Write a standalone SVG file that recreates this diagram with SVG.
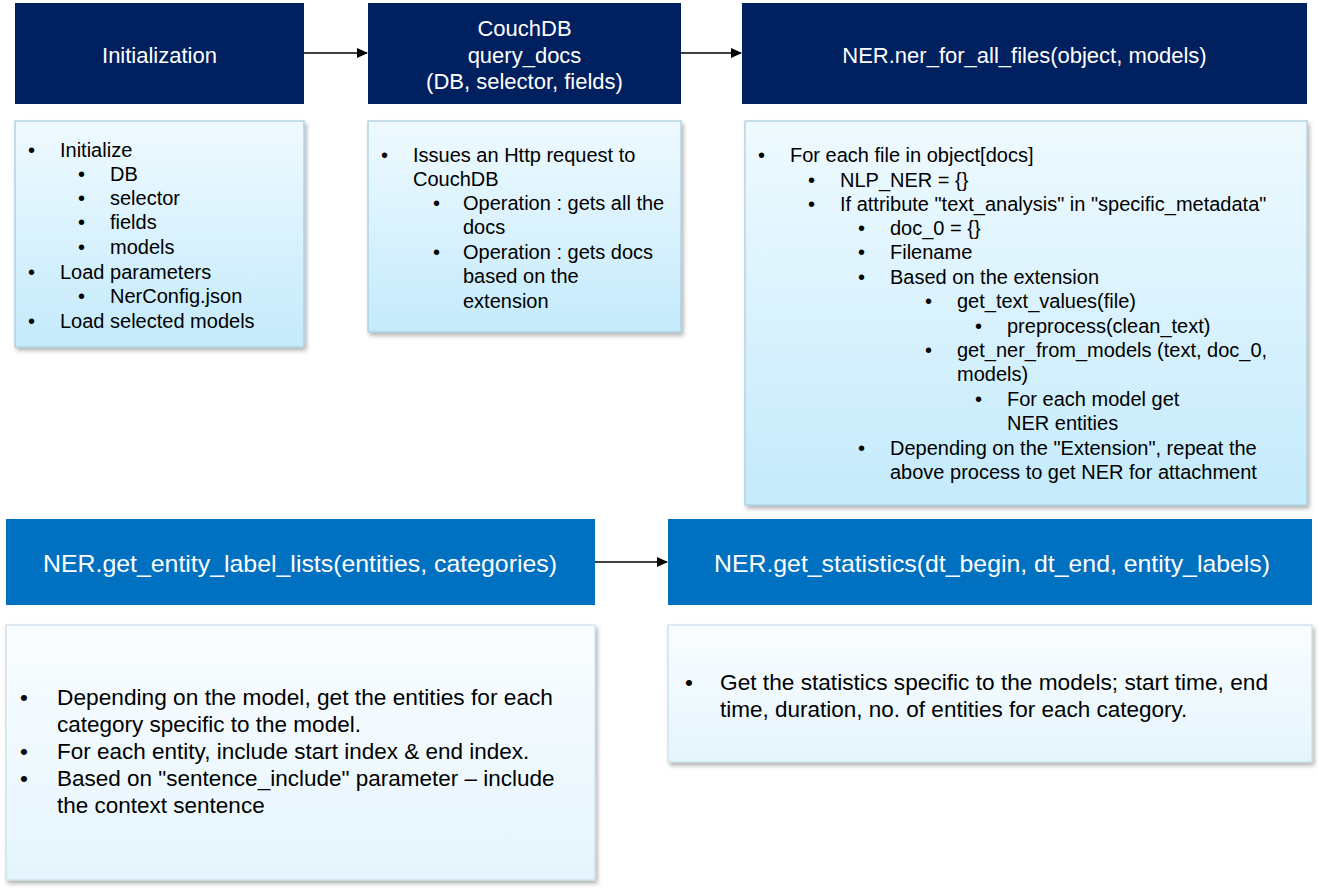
<svg xmlns="http://www.w3.org/2000/svg" width="1318" height="890" viewBox="0 0 1318 890">
<style>
text{font-family:"Liberation Sans",Arial,sans-serif}
.hd{fill:#002060}
.hb{fill:#0070c0}
.ht{fill:#ffffff;font-size:22px;text-anchor:middle}
.hbt{fill:#ffffff;font-size:24px;text-anchor:middle}
.card{fill:url(#g1);stroke:#a6cbdd;stroke-width:1.2;filter:url(#sh)}
.card2{fill:url(#g2);stroke:#c9dde8;stroke-width:1.2;filter:url(#sh)}
.t{fill:#000000;font-size:20px}
.t2{fill:#000000;font-size:22.5px}
.cn{stroke:#000000;stroke-width:1.3;fill:none;marker-end:url(#ah)}
</style>
<defs>
<linearGradient id="g1" x1="0" y1="0" x2="0" y2="1">
<stop offset="0" stop-color="#effaff"/>
<stop offset="1" stop-color="#c4eafb"/>
</linearGradient>
<linearGradient id="g2" x1="0" y1="0" x2="0" y2="1">
<stop offset="0" stop-color="#fafdff"/>
<stop offset="1" stop-color="#e5f5fd"/>
</linearGradient>
<filter id="sh" x="-5%" y="-5%" width="110%" height="115%">
<feDropShadow dx="2" dy="3" stdDeviation="2" flood-color="#000000" flood-opacity="0.3"/>
</filter>
<marker id="ah" markerWidth="11" markerHeight="10" refX="10" refY="5" orient="auto" markerUnits="userSpaceOnUse">
<path d="M0,0 L11,5 L0,10 Z" fill="#000000"/>
</marker>
</defs>

<g id="connectors">
<path class="cn" d="M304,53 L367,53"/>
<path class="cn" d="M681,53 L741,53"/>
<path class="cn" d="M595,562 L667,562"/>
</g>

<g id="init">
<rect class="hd" x="15" y="3" width="289" height="101"/>
<text class="ht" x="159.5" y="63">Initialization</text>
<rect class="card" x="15" y="121" width="289" height="226"/>
<g class="t">
<text x="28" y="157">•</text><text x="60" y="157">Initialize</text>
<text x="78" y="181">•</text><text x="110" y="181">DB</text>
<text x="78" y="205">•</text><text x="110" y="205">selector</text>
<text x="78" y="229">•</text><text x="110" y="229">fields</text>
<text x="78" y="254">•</text><text x="110" y="254">models</text>
<text x="28" y="279">•</text><text x="60" y="279">Load parameters</text>
<text x="78" y="303">•</text><text x="110" y="303">NerConfig.json</text>
<text x="28" y="328">•</text><text x="60" y="328">Load selected models</text>
</g>
</g>

<g id="couchdb">
<rect class="hd" x="368" y="3" width="313" height="101"/>
<text class="ht" x="524.5" y="36">CouchDB</text>
<text class="ht" x="524.5" y="63">query_docs</text>
<text class="ht" x="524.5" y="89">(DB, selector, fields)</text>
<rect class="card" x="368" y="121" width="313" height="211"/>
<g class="t">
<text x="381" y="162">•</text><text x="413" y="162">Issues an Http request to</text>
<text x="413" y="186">CouchDB</text>
<text x="433" y="210">•</text><text x="463" y="210">Operation : gets all the</text>
<text x="463" y="234">docs</text>
<text x="433" y="259">•</text><text x="463" y="259">Operation : gets docs</text>
<text x="463" y="283">based on the</text>
<text x="463" y="308">extension</text>
</g>
</g>

<g id="ner_all">
<rect class="hd" x="742" y="3" width="565" height="101"/>
<text class="ht" x="1024.5" y="63">NER.ner_for_all_files(object, models)</text>
<rect class="card" x="745" y="121" width="562" height="384"/>
<g class="t">
<text x="758" y="162">•</text><text x="790" y="162">For each file in object[docs]</text>
<text x="808" y="187">•</text><text x="840" y="187">NLP_NER = {}</text>
<text x="808" y="211">•</text><text x="840" y="211">If attribute "text_analysis" in "specific_metadata"</text>
<text x="858" y="235">•</text><text x="890" y="235">doc_0 = {}</text>
<text x="858" y="259">•</text><text x="890" y="259">Filename</text>
<text x="858" y="284">•</text><text x="890" y="284">Based on the extension</text>
<text x="925" y="308">•</text><text x="957" y="308">get_text_values(file)</text>
<text x="975" y="333">•</text><text x="1007" y="333">preprocess(clean_text)</text>
<text x="925" y="357">•</text><text x="957" y="357">get_ner_from_models (text, doc_0,</text>
<text x="957" y="381">models)</text>
<text x="975" y="406">•</text><text x="1007" y="406">For each model get</text>
<text x="1007" y="430">NER entities</text>
<text x="858" y="455">•</text><text x="890" y="455">Depending on the "Extension", repeat the</text>
<text x="890" y="479">above process to get NER for attachment</text>
</g>
</g>

<g id="entity_labels">
<rect class="hb" x="6" y="519" width="589" height="86"/>
<text class="hbt" x="300" y="572" textLength="514" lengthAdjust="spacingAndGlyphs">NER.get_entity_label_lists(entities, categories)</text>
<rect class="card2" x="6" y="625" width="589" height="255"/>
<g class="t2">
<text x="20" y="705">•</text><text x="57" y="705" textLength="496" lengthAdjust="spacingAndGlyphs">Depending on the model, get the entities for each</text>
<text x="57" y="732">category specific to the model.</text>
<text x="20" y="759">•</text><text x="57" y="759">For each entity, include start index &amp; end index.</text>
<text x="20" y="786">•</text><text x="57" y="786">Based on "sentence_include" parameter – include</text>
<text x="57" y="813">the context sentence</text>
</g>
</g>

<g id="statistics">
<rect class="hb" x="668" y="519" width="644" height="86"/>
<text class="hbt" x="992" y="572" textLength="556" lengthAdjust="spacingAndGlyphs">NER.get_statistics(dt_begin, dt_end, entity_labels)</text>
<rect class="card2" x="668" y="625" width="644" height="137"/>
<g class="t2">
<text x="685" y="690">•</text><text x="720" y="690" textLength="548" lengthAdjust="spacingAndGlyphs">Get the statistics specific to the models; start time, end</text>
<text x="720" y="717">time, duration, no. of entities for each category.</text>
</g>
</g>
</svg>
